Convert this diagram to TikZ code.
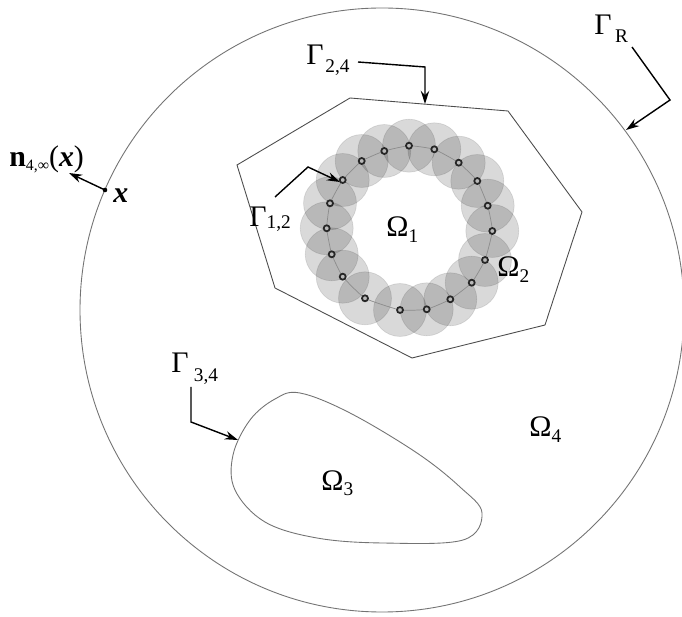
\documentclass[tikz,border=0pt]{standalone}
\usepackage{fontspec}
\setmainfont{Liberation Serif}
\usetikzlibrary{arrows.meta}
\newcommand\subl[2]{\raisebox{#1}{\fontsize{11}{11}\selectfont #2}}
\begin{document}
\begin{tikzpicture}[x=0.02cm,y=-0.02cm,
  lbl/.style={inner sep=0pt, anchor=base west, font=\fontsize{17}{20}\selectfont},
  bound/.style={draw=black!55, line width=0.5pt},
  leader/.style={line width=0.8pt, -{Stealth[length=7.5pt,width=4.8pt]}},
  disk/.style={fill=black, fill opacity=0.15, draw=black, draw opacity=0.1, line width=0.4pt},
  ringdot/.style={draw=black!85, line width=1pt, fill=gray!55}]
\useasboundingbox (0,0) rectangle (682,617);
\fill[white] (0,0) rectangle (682,617);

% outer boundary Gamma_R
\coordinate (c0) at (382,310);
\draw[bound] (c0) circle[radius=302];

% polygon Gamma_{2,4}
\draw[draw=black!70, line width=0.5pt] (350,98) -- (508,111) -- (582,212) -- (545,325) -- (412,358) -- (275,288) -- (237,165) -- cycle;

% inclusion Omega_3
\draw[bound] plot[smooth cycle, tension=0.6] coordinates {(300,393) (350,413) (417,453) (460,487) (482,513) (463,540) (383,543) (317,538) (265,522) (235,490) (233,455) (250,420) (275,399)};

% leader for Gamma_{1,2} (under the disks)
\coordinate (g12a) at (275,197);
\coordinate (g12b) at (308,167);
\coordinate (g12t) at (340,182);
\draw[leader] (g12a) -- (g12b) -- (g12t);

% ring of disks
\foreach \p in {(342.7,180),(361.7,161),(384.3,151),(409,145.7),(434.3,149.3),(458.7,162.7),(477.3,181),(487.7,205.7),(492.3,231),(485,260),(471.7,282.7),(450.3,299.3),(426.7,309.3),(400,310),(365,298.3),(342.7,276.7),(331.7,254.3),(326.7,228.3),(330,203.3)}
  \draw[disk] \p circle[radius=26.5];
\draw[black!45, line width=0.4pt] plot[smooth cycle, tension=0.25] coordinates {(342.7,180) (361.7,161) (384.3,151) (409,145.7) (434.3,149.3) (458.7,162.7) (477.3,181) (487.7,205.7) (492.3,231) (485,260) (471.7,282.7) (450.3,299.3) (426.7,309.3) (400,310) (365,298.3) (342.7,276.7) (331.7,254.3) (326.7,228.3) (330,203.3)};
\foreach \p in {(342.7,180),(361.7,161),(384.3,151),(409,145.7),(434.3,149.3),(458.7,162.7),(477.3,181),(487.7,205.7),(492.3,231),(485,260),(471.7,282.7),(450.3,299.3),(426.7,309.3),(400,310),(365,298.3),(342.7,276.7),(331.7,254.3),(326.7,228.3),(330,203.3)}
  \draw[ringdot] \p circle[radius=3];

% other leaders
\coordinate (g24a) at (358,62);
\coordinate (g24b) at (425,67);
\coordinate (g24t) at (425,104);
\draw[leader] (g24a) -- (g24b) -- (g24t);

\coordinate (gRa) at (632,47);
\coordinate (gRb) at (670,100);
\coordinate (gRt) at (626,130);
\draw[leader] (gRa) -- (gRb) -- (gRt);

\coordinate (g34a) at (191,387);
\coordinate (g34b) at (191,422);
\coordinate (g34t) at (238,440);
\draw[leader] (g34a) -- (g34b) -- (g34t);

% point x and normal
\coordinate (xp) at (105,190);
\coordinate (ntip) at (69,173);
\draw[leader] (xp) -- (ntip);
\fill (xp) circle[radius=2.3];

% labels
\node[lbl] (G24) at (306,65) {Γ\hspace{1pt}\subl{-4pt}{2,4}};
\node[lbl] (G12) at (249,227) {Γ\subl{-1pt}{1,2}};
\node[lbl] (GR) at (594,35) {Γ\hspace{2pt}\subl{-4.5pt}{R}};
\node[lbl] (G34) at (171,373) {Γ\hspace{3pt}\subl{-5pt}{3,4}};
\node[lbl] (O1) at (386,237) {Ω\subl{-3pt}{1}};
\node[lbl] (O2) at (497,277) {Ω\subl{-3pt}{2}};
\node[lbl] (O3) at (321,490) {Ω\subl{-3pt}{3}};
\node[lbl] (O4) at (529,437) {Ω\subl{-3pt}{4}};
\node[lbl] (nlab) at (9,167) {\textbf{n}\raisebox{-2pt}{\fontsize{9}{9}\selectfont 4,∞}(\textbf{\textit{x}})};
\node[lbl] (xlab) at (113,203) {\textbf{\textit{x}}};
\end{tikzpicture}
\end{document}
